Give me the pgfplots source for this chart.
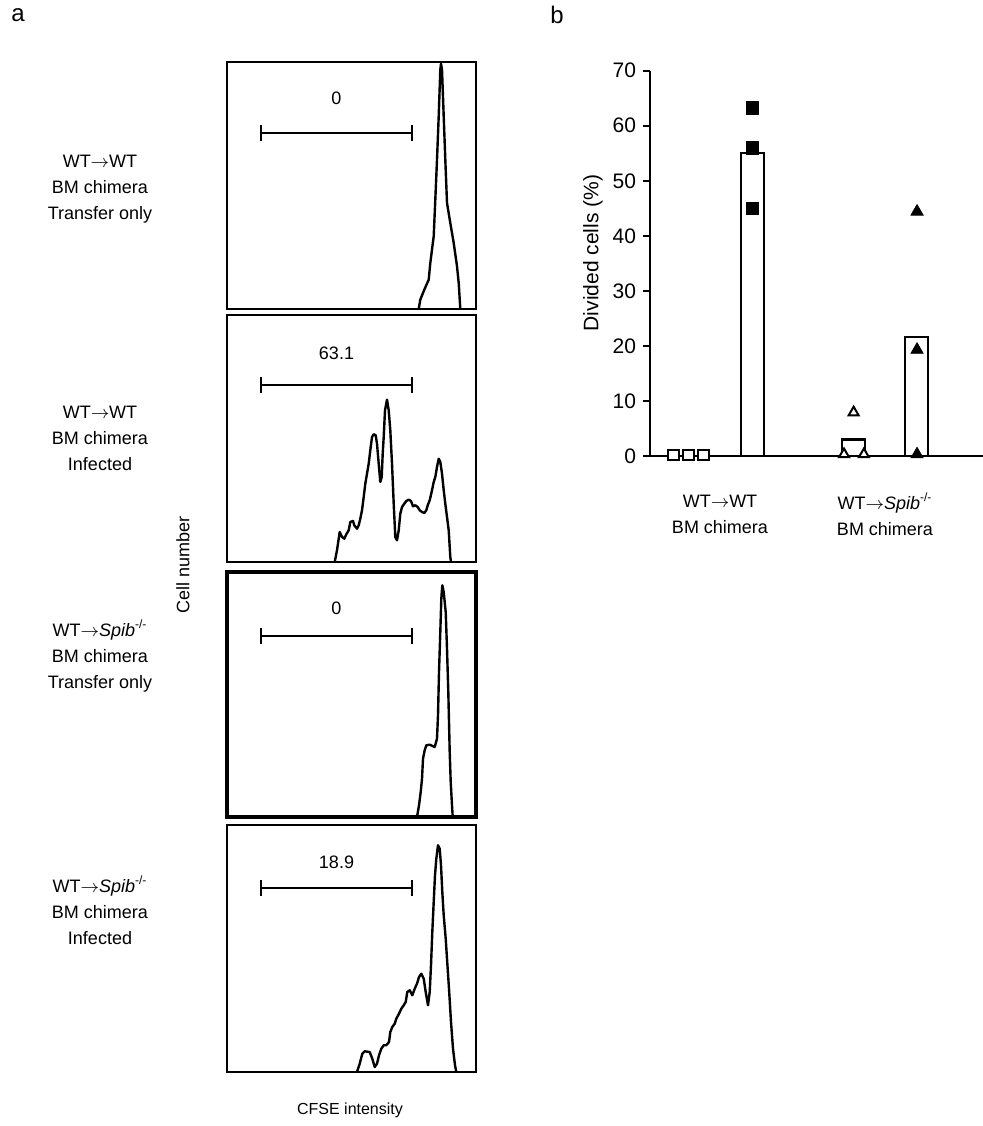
\documentclass[border=0pt]{standalone}
\usepackage{fontspec}
\setmainfont{Liberation Sans}
\usepackage{pgfplots}
\pgfplotsset{compat=1.18}

\newcommand{\lbl}{\fontsize{9}{13}\selectfont}
\newcommand{\lblb}{\fontsize{10.5}{13}\selectfont}

\pgfplotsset{
  hist/.style={
    scale only axis,
    width=124.5pt, height=123.5pt,
    xmin=0, xmax=249, ymin=0, ymax=247,
    xtick=\empty, ytick=\empty,
    axis line style={line width=1.1pt},
    anchor=north west,
  },
  histline/.style={black, line width=1.2pt, no marks, line join=round},
}

% gate bar: y of bar, lower and upper end of the end ticks
\newcommand{\gate}[3]{%
  \draw[line width=1pt] (axis cs:34,#1) -- (axis cs:185,#1);
  \draw[line width=1pt] (axis cs:34,#2) -- (axis cs:34,#3);
  \draw[line width=1pt] (axis cs:185,#2) -- (axis cs:185,#3);
}

\begin{document}
\begin{tikzpicture}
\path[use as bounding box] (0,0) rectangle (491.5pt,563pt);

% panel labels
\node[font=\fontsize{12}{14}\selectfont] at (9pt,555.5pt) {a};
\node[font=\fontsize{12}{14}\selectfont] at (278.5pt,555.5pt) {b};

% row labels
\node[align=center, font=\lbl] at (50pt,468.5pt) {WT$\rightarrow$WT\\BM chimera\\Transfer only};
\node[align=center, font=\lbl] at (50pt,344pt) {WT$\rightarrow$WT\\BM chimera\\Infected};
\node[align=center, font=\lbl] at (50pt,235pt) {WT$\rightarrow$\textit{Spib}\textsuperscript{-/-}\\BM chimera\\Transfer only};
\node[align=center, font=\lbl] at (50pt,108pt) {WT$\rightarrow$\textit{Spib}\textsuperscript{-/-}\\BM chimera\\Infected};
\node[rotate=90, font=\lbl] at (91.5pt,280.5pt) {Cell number};
\node[font=\fontsize{8}{10}\selectfont] at (175pt,8pt) {CFSE intensity};

% ---- histogram 1: WT->WT transfer only
\begin{axis}[hist, at={(113.5pt,532pt)}]
\addplot[histline] coordinates {
(191.7,0) (193.3,9.3) (197.3,19.3) (201.7,29.3) (203.3,46) (206.7,72.7)
(208.3,109.3) (210,149.3) (211.7,192.7) (213.3,239.3) (214,245.3) (215,239.3)
(216.7,192.7) (218.3,149.3) (220,106) (223.3,86) (226.7,66) (230,42.7)
(231.7,26) (233.3,0)
};
\gate{176}{168}{184}
\node[font=\lbl] at (axis cs:109.5,211) {0};
\end{axis}

% ---- histogram 2: WT->WT infected
\begin{axis}[hist, at={(113.5pt,405.5pt)}]
\addplot[histline] coordinates {
(107.7,0) (110,11.7) (112.7,30) (115,25) (117.3,23.3) (119.3,27.7) (121.7,31.7)
(123.3,40) (126,41) (127.3,36.7) (130,33.3) (131.7,36.7) (133.3,43.3) (135,51.7)
(136.7,65) (138.3,78.3) (140,88.3) (141.7,98.3) (143.3,111.7) (145,125)
(146.7,127.7) (148.7,126.7) (150,118.3) (151.7,98.3) (153.3,80) (154.7,85)
(155.7,108.3) (156.7,125) (158,151.7) (160,162.3) (161.7,151.7) (163.3,131.7)
(165,98.3) (166.7,58.3) (168.3,25) (170,21.7) (171.7,31.7) (173.3,48.3) (175,55)
(177.3,58.3) (179.3,61) (181.7,62.3) (184,61) (186,55.7) (188.3,56.7) (190.7,55)
(192.7,51.7) (195,50) (197.3,49) (199.3,51.7) (200.7,56.7) (202.7,61.7) (205,71.7)
(206.7,80) (208.3,85) (210,95) (211.7,103.3) (213.3,100) (215,88.3) (216.7,71.7)
(218.3,58.3) (220,45) (221.7,31.7) (223.3,5) (224,0)
};
\gate{177}{169}{185}
\node[font=\lbl] at (axis cs:109.5,209) {63.1};
\end{axis}

% ---- histogram 3: WT->Spib-/- transfer only
\begin{axis}[hist, at={(113.5pt,277pt)}, height=122.5pt, ymax=245,
  axis line style={line width=1.6pt}]
\addplot[histline] coordinates {
(190,0) (192,11.7) (193.7,25) (195,38.3) (196,58.3) (197.7,66.7) (199.3,71.7)
(202.7,72.3) (207.7,70) (210,78.3) (211,101.7) (212,145) (213.3,185) (214.3,218.3)
(215.3,231.7) (216.7,225) (218.7,205) (220,168.3) (221.3,125) (222.7,65)
(223.7,35) (225,11.7) (225.7,0)
};
\gate{181}{173}{189}
\node[font=\lbl] at (axis cs:109.5,209) {0};
\end{axis}

% ---- histogram 4: WT->Spib-/- infected
\begin{axis}[hist, at={(113.5pt,150.5pt)}]
\addplot[histline] coordinates {
(130,0) (132.7,8.3) (135.3,18.3) (137.7,20.7) (142.7,20) (145.3,13.3) (147.7,5)
(150,8.3) (152,16.7) (154.3,23.3) (156.7,26.7) (159.3,26.7) (162,30) (163.3,40)
(165.3,45) (167.7,48.3) (169.3,53.3) (172,58.3) (174.3,63.3) (176.7,66.7)
(178.7,70) (180.3,80) (182.7,81.7) (185.3,76.7) (187.7,83.3) (190,88.3) (192,95)
(194.3,98.3) (196.7,93.3) (198.7,80) (201,66.7) (202.7,80) (204,106.7)
(205.3,140) (206.7,170) (208,196.7) (209.3,213.3) (211,226.7) (212.7,223.3)
(214,206.7) (215.3,180) (216.7,156.7) (218.7,133.3) (220,113.3) (222,83.3)
(224,50) (226,23.3) (228,6.7) (229.3,0)
};
\gate{184}{176}{192}
\node[font=\lbl] at (axis cs:109.5,210) {18.9};
\end{axis}

% ---- panel b
\node[rotate=90, font=\lblb] at (296.5pt,436.5pt) {Divided cells (\%)};
\node[align=center, font=\lbl] at (360pt,305.75pt) {WT$\rightarrow$WT\\BM chimera};
\node[align=center, font=\lbl] at (442.5pt,305.75pt) {WT$\rightarrow$\textit{Spib}\textsuperscript{-/-}\\BM chimera};

\begin{axis}[
  at={(325pt,335pt)}, anchor=south west,
  scale only axis, width=166.5pt, height=192.65pt,
  xmin=0.4, xmax=5.6, ymin=0, ymax=70,
  axis lines=left,
  axis line style={line width=1.1pt, -},
  xtick=\empty, ytick={0,10,...,70},
  tick align=outside, major tick length=3.5pt,
  every tick/.style={black, line width=1.1pt},
  yticklabel style={font=\lblb, /pgf/number format/assume math mode=true},
  clip=false,
]
\addplot[ybar, bar width=11.5pt, draw=black, fill=white, line width=1.2pt]
  coordinates {(1,0) (2,55.1) (3.58,3.0) (4.56,21.6)};
\addplot[only marks, mark=square*, mark size=2.6pt,
  mark options={fill=white, draw=black, line width=1pt}]
  coordinates {(0.766,0.2) (1,0.2) (1.234,0.2)};
\addplot[only marks, mark=square*, mark size=3.2pt,
  mark options={fill=black, draw=black}]
  coordinates {(2,63.2) (2,56.0) (2,45.0)};
\addplot[only marks, mark=triangle*, mark size=2.9pt,
  mark options={fill=white, draw=black, line width=1pt}]
  coordinates {(3.43,0.3) (3.58,7.9) (3.74,0.3)};
\addplot[only marks, mark=triangle*, mark size=3.5pt,
  mark options={fill=black, draw=black}]
  coordinates {(4.57,44.4) (4.57,19.3) (4.57,0.3)};
\end{axis}
\end{tikzpicture}
\end{document}
